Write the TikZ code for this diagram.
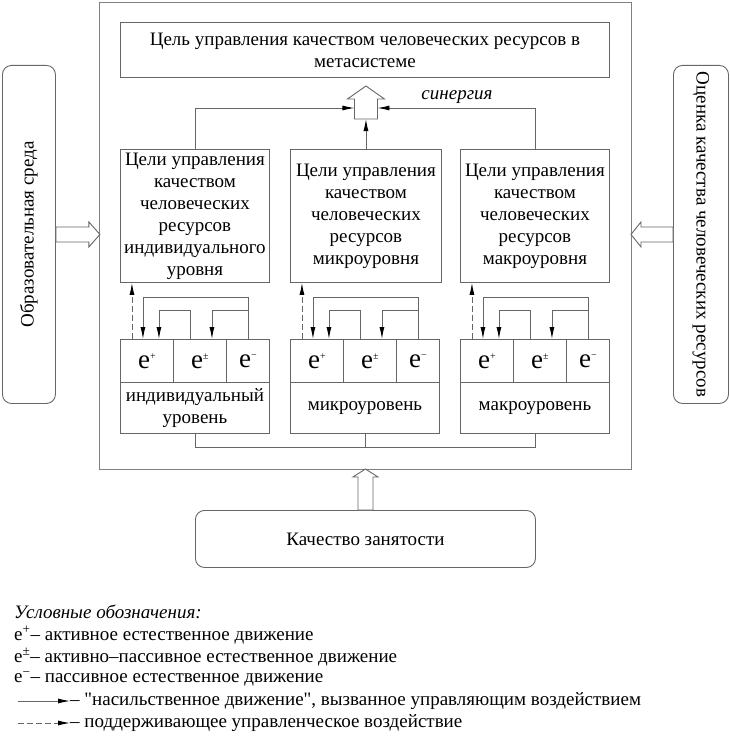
\documentclass[tikz,border=0pt]{standalone}
\usepackage{fontspec}
\setmainfont{Liberation Serif}[Ligatures=TeXOff]
\usepackage{graphicx}
\usetikzlibrary{arrows.meta,calc}
\newcommand{\ecell}[1]{{\fontsize{27}{27}\selectfont e}\raisebox{9pt}{\fontsize{10}{10}\selectfont #1}}
\tikzset{
  box/.style={draw=black!60,line width=0.9pt,align=center,anchor=north west,inner sep=1pt},
  round/.style={box,rounded corners=9pt},
  link/.style={draw=black!60,line width=0.9pt},
  arr/.style={link,-{Latex[length=12pt,width=5pt,black]}},
  support/.style={arr,dash pattern=on 6pt off 3pt},
  hollow/.style={draw=black!60,line width=0.9pt,fill=white},
  legend/.style={anchor=west,inner sep=0pt}
}

\begin{document}
\begin{tikzpicture}[x=1pt,y=-1pt,font=\fontsize{19}{22}\selectfont]
  \useasboundingbox (0,0) rectangle (729,752);
  \node[box,draw=black!50,minimum width=532pt,minimum height=467pt] (frame) at (99,2) {};
  \node[box,minimum width=489pt,minimum height=55pt] (aim) at (120,22) {Цель управления качеством человеческих ресурсов в\\метасистеме};
  \node[box,minimum width=149pt,minimum height=133pt] (g1) at (120,149) {Цели управления\\качеством\\человеческих\\ресурсов\\индивидуального\\уровня};
  \node[box,minimum width=151pt,minimum height=133pt] (g2) at (290,149) {Цели управления\\качеством\\человеческих\\ресурсов\\микроуровня};
  \node[box,minimum width=149pt,minimum height=133pt] (g3) at (460,149) {Цели управления\\качеством\\человеческих\\ресурсов\\макроуровня};

  % synergy
  \draw[hollow] (g2.north) ++(-11.5,-30) -- ++(0,-20) -- ++(-7,0) -- ++(18.5,-13) -- ++(18.5,13) -- ++(-7,0) -- ++(0,20) -- cycle;
  \coordinate (sb) at ($(g2.north)+(0,-30)$);
  \coordinate (sl) at ($(g2.north)+(-11.5,-41)$);
  \coordinate (sr) at ($(g2.north)+(11.5,-41)$);
  \draw[arr] (g2.north) -- (sb);
  \draw[arr] (g1.north) |- (sl);
  \draw[arr] (g3.north) |- (sr);
  \node (syn) at (457,97) {\itshape синергия};

  \foreach \i/\x/\lbl in {1/120/{индивидуальный\\уровень},2/290/микроуровень,3/460/макроуровень} {
    \node[box,minimum width=53pt,minimum height=43pt] (p\i) at (\x,339) {\ecell{+}};
    \node[box,minimum width=53pt,minimum height=43pt] (z\i) at (\x+53,339) {\ecell{±}};
    \node[box,minimum width=43pt,minimum height=43pt] (m\i) at (\x+106,339) {\ecell{−}};
    \node[box,minimum width=149pt,minimum height=51pt] (lv\i) at (\x,382) {\lbl};
    \draw[arr] (m\i.north) -- ++(0,-42) -| ($(p\i.north)+(-4,0)$);
    \draw[arr] ($(z\i.north)+(-10,0)$) -- ++(0,-29) -| ($(p\i.north)+(12,0)$);
    \draw[arr] ($(m\i.north)+(0,-29)$) -| ($(z\i.north)+(12,0)$);
    \coordinate (d\i) at ($(p\i.north)+(-15,0)$);
    \draw[support] (d\i) -- (d\i |- g\i.south);
  }
  \draw[link] (lv1.south) -- ++(0,14) -| (lv3.south);
  \draw[link] (lv2.south) -- ++(0,14);

  % outside
  \node[round,minimum width=53pt,minimum height=338pt] (env) at (2,65) {\rotatebox{90}{Образовательная среда}};
  \node[round,minimum width=55pt,minimum height=338pt] (rate) at (673,65) {\rotatebox{-90}{Оценка качества человеческих ресурсов}};
  \node[round,minimum width=340pt,minimum height=57pt] (job) at (195,510) {Качество занятости};
  \draw[hollow] (env.east) ++(0,-7.5) -- ++(33,0) -- ++(0,-5) -- ++(11,12.5) -- ++(-11,12.5) -- ++(0,-5) -- ++(-33,0) -- cycle;
  \draw[hollow] (rate.west) ++(0,-7.5) -- ++(-32,0) -- ++(0,-5) -- ++(-10,12.5) -- ++(10,12.5) -- ++(0,-5) -- ++(32,0) -- cycle;
  \draw[hollow] (job.north) ++(-7.5,0) -- ++(0,-33) -- ++(-5,0) -- ++(12.5,-8) -- ++(12.5,8) -- ++(-5,0) -- ++(0,33) -- cycle;

  % legend
  \node[legend] (leg) at (14,612) {\itshape Условные обозначения:};
  \node[legend] (l1) at (14,635) {e\textsuperscript{+}– активное естественное движение};
  \node[legend] (l2) at (14,657) {e\textsuperscript{±}– активно–пассивное естественное движение};
  \node[legend] (l3) at (14,679) {e\textsuperscript{−}– пассивное естественное движение};
  \node[legend] (l4) at (70,701) {– "насильственное движение", вызванное управляющим воздействием};
  \node[legend] (l5) at (70,723) {– поддерживающее управленческое воздействие};
  \coordinate (s4) at (18,701);
  \coordinate (s5) at (18,723);
  \draw[arr] (s4) -- (l4.west);
  \draw[support] (s5) -- (l5.west);
\end{tikzpicture}
\end{document}
